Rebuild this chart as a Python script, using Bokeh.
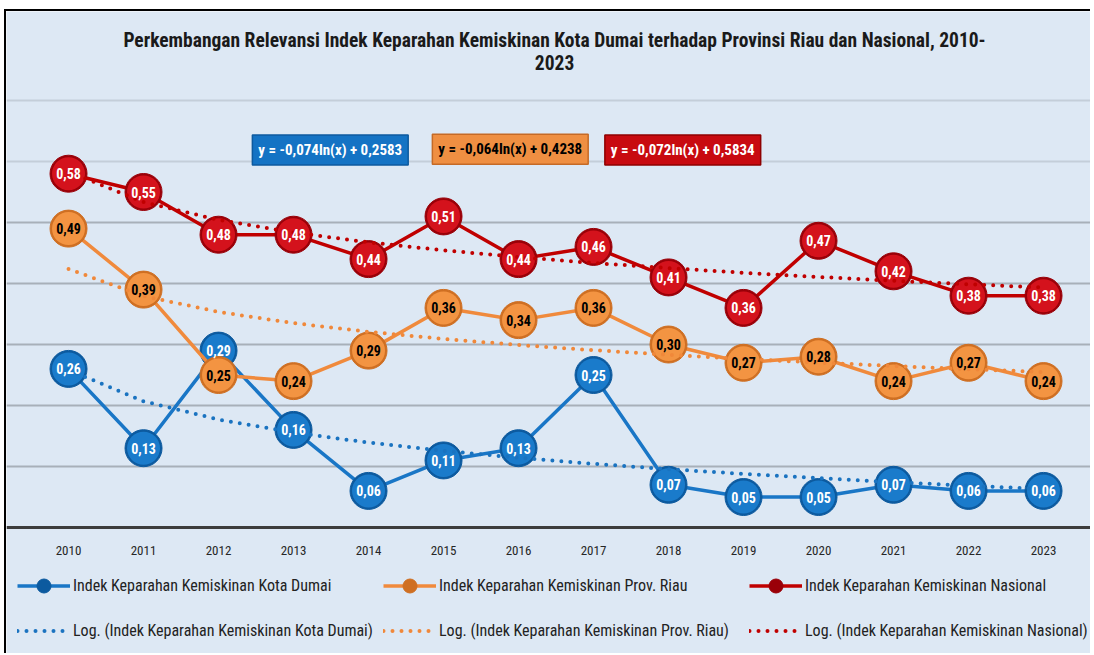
import numpy as np
from bokeh.plotting import figure
from bokeh.models import (Range1d, FixedTicker, Label, Legend, LegendItem, Grid,
                          ColumnDataSource)
from bokeh.core.properties import value
from bokeh.embed import file_html
from bokeh.resources import INLINE

years = ["2010", "2011", "2012", "2013", "2014", "2015", "2016",
         "2017", "2018", "2019", "2020", "2021", "2022", "2023"]
dumai = [0.26, 0.13, 0.29, 0.16, 0.06, 0.11, 0.13, 0.25, 0.07, 0.05, 0.05, 0.07, 0.06, 0.06]
riau = [0.49, 0.39, 0.25, 0.24, 0.29, 0.36, 0.34, 0.36, 0.30, 0.27, 0.28, 0.24, 0.27, 0.24]
nasional = [0.58, 0.55, 0.48, 0.48, 0.44, 0.51, 0.44, 0.46, 0.41, 0.36, 0.47, 0.42, 0.38, 0.38]

# log trend coefficients (y = a ln(x) + b), as printed on the chart
trend_dumai = (-0.074, 0.2583)
trend_riau = (-0.064, 0.4238)
trend_nasional = (-0.072, 0.5834)

names = ["Indek Keparahan Kemiskinan Kota Dumai",
         "Indek Keparahan Kemiskinan Prov. Riau",
         "Indek Keparahan Kemiskinan Nasional"]
equations = ["y = -0,074ln(x) + 0,2583", "y = -0,064ln(x) + 0,4238", "y = -0,072ln(x) + 0,5834"]
title_lines = ["Perkembangan Relevansi Indek Keparahan Kemiskinan Kota Dumai terhadap "
               "Provinsi Riau dan Nasional, 2010-", "2023"]

NARROW = "'Roboto Condensed', 'DejaVu Sans Condensed', 'Liberation Sans Narrow', Roboto, sans-serif"
BG = "#dde8f4"

x = list(range(len(years)))

p = figure(width=1086, height=644, output_backend="svg", toolbar_location=None, title=None,
           x_range=Range1d(-0.827, 13.653), y_range=Range1d(-0.2098, 0.8459),
           min_border_left=0, min_border_right=0, min_border_top=0, min_border_bottom=0)
p.background_fill_color = BG
p.border_fill_color = BG
p.outline_line_color = None
p.styles = {"border-left": "2px solid black", "border-top": "2px solid black",
            "margin-left": "4px", "margin-top": "9px"}

# title (two centred lines)
for ty_pos, line in zip([0.798, 0.762], title_lines):
    p.add_layout(Label(x=6.48, y=ty_pos, text=line, text_align="center", text_baseline="middle",
                       text_font=NARROW, text_font_size="19.5px", text_font_style="bold",
                       text_color="#1a1a1a"))

p.xaxis.visible = False
p.yaxis.visible = False
p.xgrid.visible = False
p.ygrid.ticker = FixedTicker(ticks=[0.1, 0.2, 0.3, 0.4, 0.5])
p.ygrid.grid_line_color = "#a8b0b9"
p.ygrid.grid_line_width = 2
p.ygrid.bounds = (-0.5, 13.5)
p.add_layout(Grid(dimension=1, ticker=FixedTicker(ticks=[0.6, 0.7]), bounds=(-0.5, 13.5),
                  grid_line_color="#c4ced9", grid_line_width=2))
# x axis base line
p.add_layout(Grid(dimension=1, ticker=FixedTicker(ticks=[0]), bounds=(-0.5, 13.5),
                  grid_line_color="#3c3c3c", grid_line_width=3))

# year labels under the base line
p.text(x=x, y=[0] * len(x), text=years, y_offset=23, text_align="center",
       text_baseline="middle", text_color="#262626", text_font=value(NARROW),
       text_font_size="13px")

series = [
    (dumai, "#1976c6", "#1a7bcb", "#0c5a9f", "white"),
    (riau, "#f08a3c", "#f39442", "#cf6f22", "black"),
    (nasional, "#c00000", "#d4121c", "#9a0008", "white"),
]
trends = [(trend_dumai, "#1a73c0"), (trend_riau, "#f0883a"), (trend_nasional, "#c00000")]

items_main = []
label_data = []
for (vals, lc, mc, ec, tc), name in zip(series, names):
    src = ColumnDataSource(dict(x=x, y=vals, lab=[f"{v:.2f}".replace(".", ",") for v in vals]))
    lr = p.line("x", "y", source=src, line_color=lc, line_width=3.5)
    base = p.scatter("x", "y", source=src, size=37, fill_color=ec, line_color=ec, line_width=1)
    p.scatter("x", "y", source=src, size=33, fill_color=mc, line_color=None)
    items_main.append(LegendItem(label=name, renderers=[lr, base]))
    label_data.append((src, tc))

items_trend = []
xs = np.arange(1, len(years) + 1)
for ((a, b), c), name in zip(trends, names):
    ty = a * np.log(xs) + b
    tr = p.line(x, list(ty), line_color=c, line_width=4, line_dash="0 9", line_cap="round")
    items_trend.append(LegendItem(label=f"Log. ({name})", renderers=[tr]))

for src, tc in label_data:
    p.text("x", "y", text="lab", source=src, text_align="center", text_baseline="middle",
           text_color=tc, text_font=value(NARROW), text_font_size="14px", text_font_style="bold")

eq_pos = [(3.49, 0.619, "#1473c4", "#0d5a9e", "white"),
          (5.89, 0.62, "#ef8f42", "#c56a26", "black"),
          (8.19, 0.619, "#c80a10", "#8e0000", "white")]
for (ex, ey, fc, bc, tc), eq in zip(eq_pos, equations):
    p.add_layout(Label(x=ex, y=ey, text=eq, text_align="center", text_baseline="middle",
                       text_font=NARROW, text_font_size="15px", text_font_style="bold",
                       text_color=tc, background_fill_color=fc, border_line_color=bc,
                       border_line_width=1.5, padding=6))

legend = Legend(items=items_main + items_trend, orientation="horizontal", ncols=3,
                location=(11, 7), glyph_width=53, glyph_height=35, label_standoff=3,
                label_width=300, label_text_font=NARROW, label_text_font_size="16px",
                label_text_color="#222222", spacing=10, padding=0, margin=0,
                background_fill_alpha=0, border_line_color=None)
p.add_layout(legend)

open("out.html", "w").write(file_html(p, INLINE))
